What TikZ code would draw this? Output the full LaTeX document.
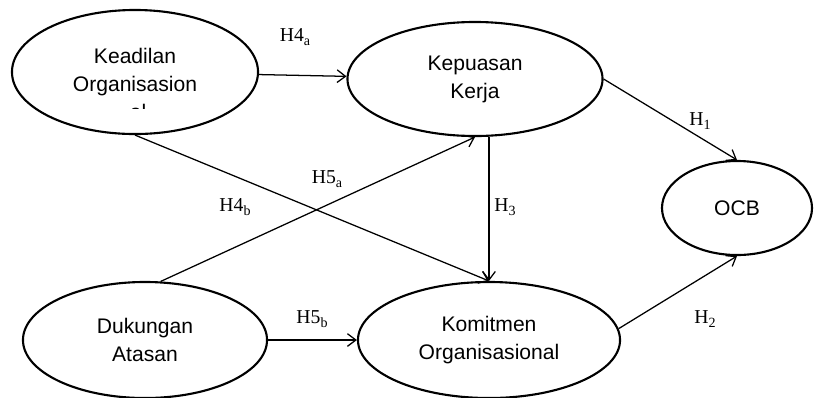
\documentclass[tikz,border=0pt]{standalone}
\usepackage{fontspec}
\setmainfont{Liberation Serif}
\newfontfamily\varfont{Liberation Sans}
\usetikzlibrary{shapes.geometric, arrows.meta}

\newcommand{\hyp}[2]{H#1\raisebox{-2.5pt}{\fontsize{10}{10}\selectfont #2}}

\begin{document}
\begin{tikzpicture}[x=0.025cm, y=-0.025cm,
        var/.style={draw, ellipse, line width=1.5pt, inner sep=0pt, align=center,
            font=\varfont\fontsize{15}{20}\selectfont},
        link/.style={-{Straight Barb[length=6pt, width=9pt]}, line width=0.9pt},
        hlabel/.style={font=\fontsize{14}{16}\selectfont, inner sep=0pt}]
        \useasboundingbox (0,0) rectangle (814,397);

        % variables
        \node[var, minimum width=6.15cm, minimum height=3.1cm] (kead) at (135,72) {Keadilan\\Organisasion};
        \node[var, minimum width=6.375cm, minimum height=2.85cm] (kepu) at (475,79) {Kepuasan\\Kerja};
        \node[var, minimum width=3.75cm, minimum height=2.35cm] (ocb) at (737,208) {OCB};
        \node[var, minimum width=6.1cm, minimum height=2.9cm] (duk) at (145,340) {Dukungan\\Atasan};
        \node[var, minimum width=6.55cm, minimum height=2.9cm] (kom) at (489,340) {Komitmen\\Organisasional};

        % cut off last line
        \begin{scope}
            \clip (100,95) rectangle (180,108);
            \node[font=\varfont\fontsize{15}{20}\selectfont, anchor=base] (keadrest) at (138,119) {al};
        \end{scope}

        % paths
        \draw[link] (kead) -- (kepu);
        \draw[link] (kepu.east) -- (ocb.north);
        \draw[link] (kepu.south -| kom.north) -- (kom.north);
        \draw[link] (kead.south) -- (kom.north);
        \draw[link] (duk.75) -- (kepu.south);
        \draw[link] (duk.east) -- (kom.west);
        \draw[link] (kom.5) -- (ocb.south);

        % hypotheses
        \node[hlabel] (h4a) at (295,37) {\hyp{4}{a}};
        \node[hlabel] (h1) at (700,121) {\hyp{}{1}};
        \node[hlabel] (h3) at (505,207) {\hyp{}{3}};
        \node[hlabel] (h5a) at (327,179) {\hyp{5}{a}};
        \node[hlabel] (h4b) at (235,207) {\hyp{4}{b}};
        \node[hlabel] (h5b) at (312,319) {\hyp{5}{b}};
        \node[hlabel] (h2) at (705,319) {\hyp{}{2}};

    \end{tikzpicture}
\end{document}
